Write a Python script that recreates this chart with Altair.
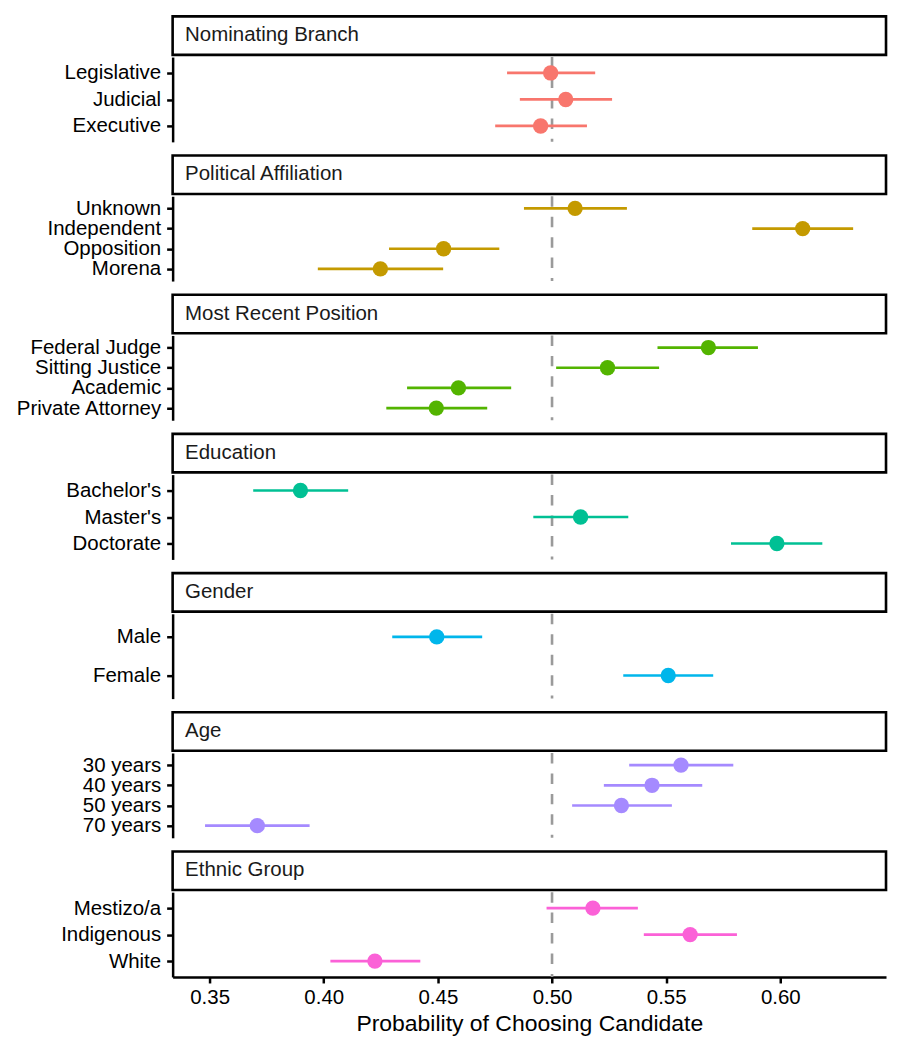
import altair as alt
import pandas as pd

# ---------------- data ----------------
facets = ["Nominating Branch", "Political Affiliation", "Most Recent Position",
          "Education", "Gender", "Age", "Ethnic Group"]

levels = [
    ["Legislative", "Judicial", "Executive"],
    ["Unknown", "Independent", "Opposition", "Morena"],
    ["Federal Judge", "Sitting Justice", "Academic", "Private Attorney"],
    ["Bachelor's", "Master's", "Doctorate"],
    ["Male", "Female"],
    ["30 years", "40 years", "50 years", "70 years"],
    ["Mestizo/a", "Indigenous", "White"],
]

est = [
    [0.4994, 0.5060, 0.4950],
    [0.5101, 0.6098, 0.4525, 0.4248],
    [0.5685, 0.5243, 0.4590, 0.4493],
    [0.3898, 0.5125, 0.5985],
    [0.4495, 0.5509],
    [0.5565, 0.5438, 0.5304, 0.3709],
    [0.5179, 0.5605, 0.4224],
]

lo = [
    [0.4803, 0.4859, 0.4751],
    [0.4877, 0.5877, 0.4286, 0.3974],
    [0.5462, 0.5018, 0.4365, 0.4274],
    [0.3691, 0.4918, 0.5784],
    [0.4300, 0.5312],
    [0.5338, 0.5227, 0.5088, 0.3480],
    [0.4976, 0.5402, 0.4029],
]

hi = [
    [0.5189, 0.5263, 0.5153],
    [0.5328, 0.6319, 0.4769, 0.4523],
    [0.5902, 0.5469, 0.4821, 0.4716],
    [0.4107, 0.5334, 0.6184],
    [0.4694, 0.5706],
    [0.5794, 0.5658, 0.5525, 0.3938],
    [0.5376, 0.5810, 0.4423],
]

colors = ["#F8766D", "#C49A00", "#53B400", "#00C094", "#00B6EB", "#A58AFF", "#FB61D7"]

x_ticks = [0.35, 0.40, 0.45, 0.50, 0.55, 0.60]
x_title = "Probability of Choosing Candidate"
ref_value = [0.5]

# ---------------- layout / style ----------------
W = 715
PANEL_H = 85
PERIOD = 139.5
X_DOMAIN = [0.3338, 0.6463]
FONT = "Liberation Sans"

panels = []
for i, name in enumerate(facets):
    df = pd.DataFrame({"level": levels[i], "est": est[i], "lo": lo[i], "hi": hi[i]})
    strip_df = pd.DataFrame({"label": [name]})

    last = i == len(facets) - 1
    if last:
        xaxis = alt.Axis(
            values=x_ticks, format=".2f", title=x_title,
            domainColor="black", domainWidth=2.5,
            tickColor="black", tickWidth=2.5, tickSize=6,
            labelFont=FONT, labelFontSize=20.5, labelColor="black",
            labelPadding=5, labelFlush=False,
            titleFont=FONT, titleFontSize=23, titleColor="black",
            titleFontWeight="normal", titlePadding=4, grid=False,
        )
    else:
        xaxis = None

    xs = alt.Scale(domain=X_DOMAIN, nice=False, zero=False)
    ys = alt.Scale(type="point", domain=levels[i], padding=0.6)
    yaxis = alt.Axis(
        title=None, grid=False,
        domainColor="black", domainWidth=2.5,
        tickColor="black", tickWidth=2.5, tickSize=6,
        labelFont=FONT, labelFontSize=20.5, labelColor="black",
        labelPadding=6, minExtent=160, maxExtent=160,
    )
    yenc = alt.Y("level:N", scale=ys, sort=levels[i], axis=yaxis)

    # strip header drawn above the plot area
    box = alt.Chart(strip_df).mark_rect(
        fill="white", stroke="black", strokeWidth=2.6
    ).encode(x=alt.value(0), x2=alt.value(W), y=alt.value(-40.8), y2=alt.value(-2.2))
    txt = alt.Chart(strip_df).mark_text(
        align="left", baseline="alphabetic", font=FONT, fontSize=20.5, color="#1a1a1a"
    ).encode(x=alt.value(12.5), y=alt.value(-15.8), text="label:N")

    vline = alt.Chart(pd.DataFrame({"ref": ref_value})).mark_rule(
        color="#9a9a9a", strokeDash=[10.5, 10], strokeWidth=2.6
    ).encode(x=alt.X("ref:Q", scale=xs, axis=xaxis))

    bars = alt.Chart(df).mark_rule(color=colors[i], strokeWidth=2.7).encode(
        x=alt.X("lo:Q", scale=xs, axis=xaxis), x2="hi:Q", y=yenc
    )
    pts = alt.Chart(df).mark_circle(color=colors[i], size=236, opacity=1).encode(
        x=alt.X("est:Q", scale=xs, axis=xaxis), y=yenc
    )
    panel = alt.layer(box, txt, vline, bars, pts).properties(width=W, height=PANEL_H)
    panels.append(panel)

chart = alt.vconcat(*panels, spacing=PERIOD - PANEL_H, bounds="flush").configure_view(
    strokeWidth=0
).properties(background="white")

chart.save("out.html", embed_options={"renderer": "svg", "actions": False})
